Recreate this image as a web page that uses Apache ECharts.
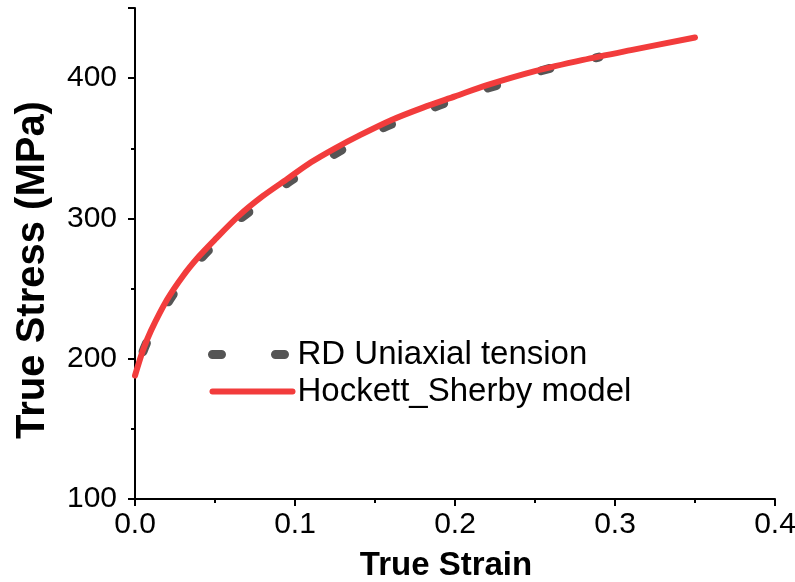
<!DOCTYPE html>
<html>
<head>
<meta charset="utf-8">
<title>True stress vs true strain</title>
<script src="https://cdn.jsdelivr.net/npm/echarts@6/dist/echarts.min.js"></script>
<style>
  html, body { margin: 0; padding: 0; background: #ffffff; }
  #chart { width: 795px; height: 582px; }
</style>
</head>
<body>
<div id="chart"></div>
<script>
// Measured tensile curve (rolling direction)
const expStrain = [0, 0.005, 0.01, 0.02, 0.03, 0.04, 0.05, 0.065, 0.08, 0.095, 0.11, 0.125, 0.145, 0.16, 0.18, 0.2, 0.215, 0.235, 0.25, 0.27, 0.29];
const expStress = [186, 205, 218, 239, 256, 270, 282, 299, 312, 325, 336, 346, 359, 367, 376, 385, 391, 398, 404, 410, 415];

// Hockett-Sherby fitted curve
const fitStrain = [0, 0.005, 0.01, 0.02, 0.03, 0.04, 0.05, 0.065, 0.08, 0.095, 0.11, 0.125, 0.14, 0.16, 0.18, 0.2, 0.22, 0.25, 0.28, 0.31, 0.35];
const fitStress = [188, 206, 220, 242, 259, 273, 285, 302, 316, 328, 340, 350, 359, 370, 379, 387, 395, 405, 413, 420, 429];

const seriesNames = ['RD Uniaxial tension', 'Hockett_Sherby model'];
const xTicks = [0, 0.1, 0.2, 0.3, 0.4];
const yTicks = [100, 200, 300, 400];

const FONT = "'Liberation Sans', Arial, sans-serif";
const pairs = (xs, ys) => xs.map((x, i) => [x, ys[i]]);

const GRAY = '#555555';
const RED = '#f23c3c';
// Rounded short dashes for the measured curve
const grayLine = { color: GRAY, width: 9, type: [9, 47], dashOffset: 28, cap: 'round' };
const grayLegendLine = { color: GRAY, width: 9, type: [9, 54], dashOffset: 0, cap: 'round' };
const redLine = { color: RED, width: 6, cap: 'round' };

const chart = echarts.init(document.getElementById('chart'), null, { renderer: 'canvas' });

chart.setOption({
  animation: false,
  backgroundColor: '#ffffff',
  grid: { left: 135, right: 20, top: 8, bottom: 83, containLabel: false, outerBoundsMode: 'none' },
  xAxis: {
    type: 'value',
    min: xTicks[0],
    max: xTicks[xTicks.length - 1],
    interval: xTicks[1] - xTicks[0],
    name: 'True Strain',
    nameLocation: 'middle',
    nameGap: 50,
    nameTextStyle: {
      fontFamily: FONT, fontWeight: 'bold', fontSize: 33, color: '#000',
      padding: [0, 18, 0, 0]
    },
    axisLine: { show: true, lineStyle: { color: '#000', width: 2 } },
    axisTick: { show: true, inside: false, length: 7, lineStyle: { color: '#000', width: 2 } },
    minorTick: { show: true, splitNumber: 2, length: 4, lineStyle: { color: '#000', width: 2 } },
    axisLabel: {
      fontFamily: FONT, fontSize: 30, color: '#000', margin: 11,
      formatter: v => v.toFixed(1)
    },
    splitLine: { show: false }
  },
  yAxis: {
    type: 'value',
    min: yTicks[0],
    max: 450,
    interval: yTicks[1] - yTicks[0],
    name: 'True Stress (MPa)',
    nameLocation: 'middle',
    nameGap: 82,
    nameTextStyle: {
      fontFamily: FONT, fontWeight: 'bold', fontSize: 40, color: '#000',
      padding: [0, 33, 0, 0]
    },
    axisLine: { show: true, lineStyle: { color: '#000', width: 2 } },
    axisTick: { show: true, inside: false, length: 7, lineStyle: { color: '#000', width: 2 } },
    minorTick: { show: true, splitNumber: 2, length: 4, lineStyle: { color: '#000', width: 2 } },
    axisLabel: {
      fontFamily: FONT, fontSize: 30, color: '#000', margin: 18,
      showMaxLabel: false
    },
    splitLine: { show: false }
  },
  legend: {
    orient: 'vertical',
    left: 208,
    top: 338,
    padding: 0,
    itemGap: 4,
    itemWidth: 80,
    itemHeight: 14,
    textStyle: { fontFamily: FONT, fontSize: 33, color: '#000', lineHeight: 33 },
    data: [
      { name: seriesNames[0], itemStyle: { opacity: 0 }, lineStyle: grayLegendLine },
      { name: seriesNames[1], itemStyle: { opacity: 0 }, lineStyle: redLine }
    ]
  },
  series: [
    {
      name: seriesNames[0],
      type: 'line',
      data: pairs(expStrain, expStress),
      smooth: 0.3,
      showSymbol: false,
      symbol: 'none',
      lineStyle: grayLine,
      itemStyle: { color: GRAY },
      z: 2
    },
    {
      name: seriesNames[1],
      type: 'line',
      data: pairs(fitStrain, fitStress),
      smooth: 0.3,
      showSymbol: false,
      symbol: 'none',
      lineStyle: redLine,
      itemStyle: { color: RED },
      z: 3
    }
  ]
});
</script>
</body>
</html>
